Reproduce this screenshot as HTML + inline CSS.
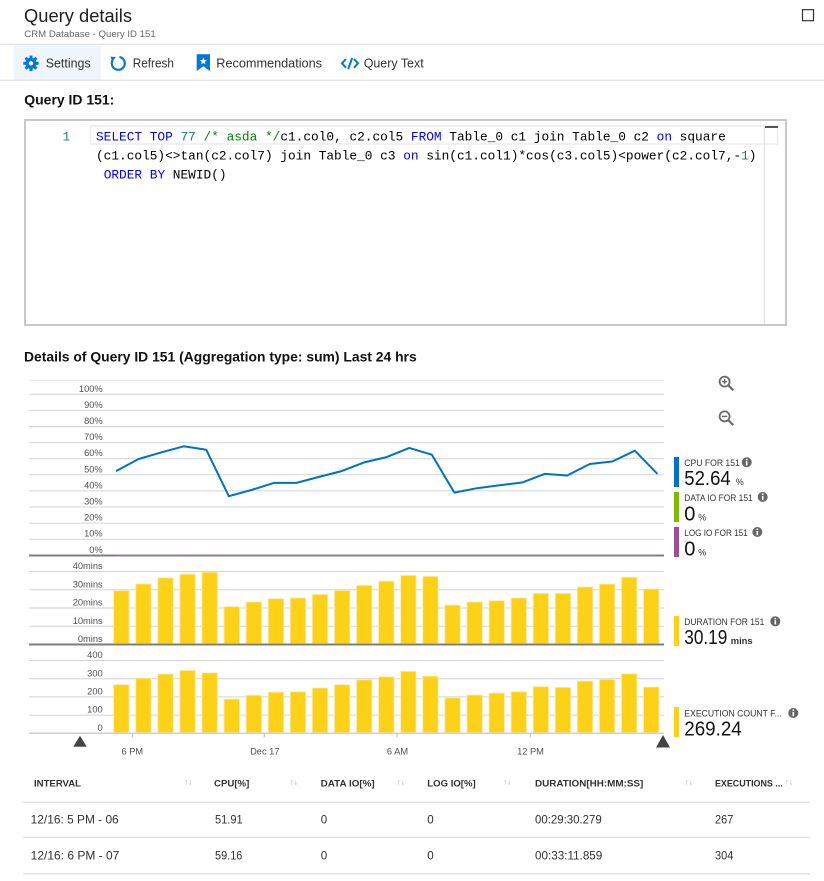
<!DOCTYPE html>
<html><head><meta charset="utf-8"><style>
html,body{margin:0;padding:0;background:#fff;}
body{width:824px;height:881px;overflow:hidden;position:relative;}
svg{position:absolute;left:0;top:0;display:block;}
text{font-family:"Liberation Sans",Arial,sans-serif;}
.mono{font-family:"Liberation Mono","DejaVu Sans Mono",monospace;font-size:12.8px;}
.ax{font-size:9.3px;fill:#505050;}
.lg{font-size:9.2px;fill:#333;}
.th{font-size:9px;font-weight:bold;fill:#323130;}
.td{font-size:11.6px;fill:#323130;}
.srt{font-size:8px;fill:#b0b0b0;}
</style></head><body>
<svg width="824" height="881" viewBox="0 0 824 881" xmlns="http://www.w3.org/2000/svg">
<!-- Header -->
<text x="24" y="22" font-size="18" fill="#1f1f1f" textLength="108" lengthAdjust="spacingAndGlyphs">Query details</text>
<text x="24.3" y="37" font-size="9.6" fill="#666" textLength="131.4" lengthAdjust="spacingAndGlyphs">CRM Database - Query ID 151</text>
<rect x="802.5" y="9.7" width="11" height="11" fill="none" stroke="#333" stroke-width="1.2"/>
<line x1="0" y1="44.3" x2="824" y2="44.3" stroke="#d9d9d9" stroke-width="1"/>
<!-- toolbar -->
<rect x="14" y="45" width="87" height="35" fill="#eef5fc"/>
<g fill="#0078d4">
  <circle cx="31" cy="63.3" r="5.6"/>
  <g>
    <rect x="29.5" y="55.6" width="3" height="3.5" transform="rotate(0 31 63.3)"/>
    <rect x="29.5" y="55.6" width="3" height="3.5" transform="rotate(45 31 63.3)"/>
    <rect x="29.5" y="55.6" width="3" height="3.5" transform="rotate(90 31 63.3)"/>
    <rect x="29.5" y="55.6" width="3" height="3.5" transform="rotate(135 31 63.3)"/>
    <rect x="29.5" y="55.6" width="3" height="3.5" transform="rotate(180 31 63.3)"/>
    <rect x="29.5" y="55.6" width="3" height="3.5" transform="rotate(225 31 63.3)"/>
    <rect x="29.5" y="55.6" width="3" height="3.5" transform="rotate(270 31 63.3)"/>
    <rect x="29.5" y="55.6" width="3" height="3.5" transform="rotate(315 31 63.3)"/>
  </g>
</g>
<circle cx="31" cy="63.3" r="2.2" fill="#eef5fc"/>
<text x="45.7" y="67.6" font-size="12.7" fill="#323130" textLength="45" lengthAdjust="spacingAndGlyphs">Settings</text>
<path d="M112.67,60.05 A6.5,6.5 0 1 0 119.43,56.9" fill="none" stroke="#0078d4" stroke-width="2.2"/>
<polygon points="110.5,56.5 115.8,57.2 112.2,61.6" fill="#0078d4"/>
<text x="132.7" y="67.6" font-size="12.7" fill="#323130" textLength="41.3" lengthAdjust="spacingAndGlyphs">Refresh</text>
<path d="M196.7,54.3 H210 V71 L203.3,66.2 L196.7,71 Z" fill="#0078d4"/>
<polygon points="203.3,57.5 204.24,60.0 206.91,60.13 204.82,61.79 205.53,64.37 203.3,62.9 201.07,64.37 201.78,61.79 199.69,60.13 202.36,60.0" fill="#fff"/>
<text x="216.3" y="67.6" font-size="12.7" fill="#323130" textLength="105.7" lengthAdjust="spacingAndGlyphs">Recommendations</text>
<g fill="none" stroke="#0078d4" stroke-width="2">
<polyline points="346,59 342,63.3 346,67.7"/>
<line x1="352.2" y1="58" x2="348.2" y2="69"/>
<polyline points="354,59 358,63.3 354,67.7"/>
</g>
<text x="363.7" y="67.6" font-size="12.7" fill="#323130" textLength="60" lengthAdjust="spacingAndGlyphs">Query Text</text>
<line x1="0" y1="80.3" x2="824" y2="80.3" stroke="#d9d9d9" stroke-width="1"/>

<text x="24.3" y="104.5" font-size="14" font-weight="bold" fill="#111" textLength="90" lengthAdjust="spacingAndGlyphs">Query ID 151:</text>

<!-- Code box -->
<rect x="25" y="120" width="761" height="205" fill="#fff" stroke="#c8c8c8" stroke-width="2"/>
<rect x="90.5" y="126" width="687" height="18" fill="none" stroke="#ececec" stroke-width="1.5"/>
<line x1="764.3" y1="126" x2="764.3" y2="324" stroke="#dcdcdc" stroke-width="1"/>
<rect x="765" y="126" width="13" height="2" fill="#555"/>
<text x="62.5" y="140.5" class="mono" fill="#237893">1</text>
<text x="96" y="140.5" class="mono" fill="#000"><tspan fill="#0000ff">SELECT TOP</tspan> <tspan fill="#09885a">77</tspan> <tspan fill="#008000">/* asda */</tspan>c1.col0, c2.col5 <tspan fill="#0000ff">FROM</tspan> Table_0 c1 join Table_0 c2 <tspan fill="#0000ff">on</tspan> square</text>
<text x="96" y="159.5" class="mono" fill="#000">(c1.col5)&lt;&gt;tan(c2.col7) join Table_0 c3 <tspan fill="#0000ff">on</tspan> sin(c1.col1)*cos(c3.col5)&lt;power(c2.col7,-<tspan fill="#09885a">1</tspan>)</text>
<text x="103.7" y="178.5" class="mono" fill="#000"><tspan fill="#0000ff">ORDER BY</tspan> NEWID()</text>

<text x="24" y="361.7" font-size="14" font-weight="bold" fill="#111" textLength="392.7" lengthAdjust="spacingAndGlyphs">Details of Query ID 151 (Aggregation type: sum) Last 24 hrs</text>

<!-- Chart gridlines -->
<g stroke="#d4d4d4" stroke-width="1">
<line x1="29" y1="380.3" x2="664" y2="380.3" stroke="#e6e6e6"/>
<line x1="29" y1="394.3" x2="664" y2="394.3"/>
<line x1="29" y1="410.4" x2="664" y2="410.4"/>
<line x1="29" y1="426.5" x2="664" y2="426.5"/>
<line x1="29" y1="442.6" x2="664" y2="442.6"/>
<line x1="29" y1="458.7" x2="664" y2="458.7"/>
<line x1="29" y1="474.8" x2="664" y2="474.8"/>
<line x1="29" y1="490.9" x2="664" y2="490.9"/>
<line x1="29" y1="507" x2="664" y2="507"/>
<line x1="29" y1="523.1" x2="664" y2="523.1"/>
<line x1="29" y1="539.2" x2="664" y2="539.2"/>
<line x1="29" y1="571.5" x2="664" y2="571.5"/>
<line x1="29" y1="589.75" x2="664" y2="589.75"/>
<line x1="29" y1="608" x2="664" y2="608"/>
<line x1="29" y1="626.25" x2="664" y2="626.25"/>
<line x1="29" y1="660.5" x2="664" y2="660.5"/>
<line x1="29" y1="678.7" x2="664" y2="678.7"/>
<line x1="29" y1="696.9" x2="664" y2="696.9"/>
<line x1="29" y1="715.1" x2="664" y2="715.1"/>
</g>
<!-- axis labels -->
<g class="ax" text-anchor="end">
<text x="102.7" y="391.8">100%</text>
<text x="102.7" y="407.9">90%</text>
<text x="102.7" y="424">80%</text>
<text x="102.7" y="440.1">70%</text>
<text x="102.7" y="456.2">60%</text>
<text x="102.7" y="472.3">50%</text>
<text x="102.7" y="488.4">40%</text>
<text x="102.7" y="504.5">30%</text>
<text x="102.7" y="520.6">20%</text>
<text x="102.7" y="536.7">10%</text>
<text x="102.7" y="552.8">0%</text>
<text x="102.7" y="569.2">40mins</text>
<text x="102.7" y="587.4">30mins</text>
<text x="102.7" y="605.7">20mins</text>
<text x="102.7" y="623.9">10mins</text>
<text x="102.7" y="642.1">0mins</text>
<text x="102.7" y="658.1">400</text>
<text x="102.7" y="676.3">300</text>
<text x="102.7" y="694.5">200</text>
<text x="102.7" y="712.7">100</text>
<text x="102.7" y="730.9">0</text>
</g>

<!-- CPU line -->
<polyline fill="none" stroke="#0072c6" stroke-width="2" stroke-linejoin="round" points="116,471.1 138.56,459.0 161.12,452.4 183.68,446.3 206.24,449.7 228.8,496.2 251.36,490.0 273.92,482.9 296.48,482.9 319.04,476.9 341.6,471.1 364.16,462.4 386.72,457.1 409.28,447.9 431.84,454.7 454.4,492.6 476.96,488.2 499.52,485.3 522.08,482.55 544.64,473.9 567.2,475.5 589.76,464.0 612.32,461.5 634.88,450.7 657.44,473.9"/>
<!-- CPU zero / panel separator -->
<line x1="29" y1="555.5" x2="664" y2="555.5" stroke="#808080" stroke-width="2"/>
<line x1="116" y1="555.5" x2="657.4" y2="555.5" stroke="#8d7c93" stroke-width="2"/>

<!-- Duration bars -->
<g fill="#fcd116" stroke="#fde9a2" stroke-width="0.8">
<rect x="113.7" y="590.7" width="15.3" height="52.8"/>
<rect x="135.78" y="583.9" width="15.3" height="59.6"/>
<rect x="157.86" y="577.9" width="15.3" height="65.6"/>
<rect x="179.94" y="574.2" width="15.3" height="69.3"/>
<rect x="202.02" y="572.2" width="15.3" height="71.3"/>
<rect x="224.1" y="606.7" width="15.3" height="36.8"/>
<rect x="246.18" y="602.0" width="15.3" height="41.5"/>
<rect x="268.26" y="598.7" width="15.3" height="44.8"/>
<rect x="290.34" y="598.0" width="15.3" height="45.5"/>
<rect x="312.42" y="594.5" width="15.3" height="49.0"/>
<rect x="334.5" y="590.5" width="15.3" height="53.0"/>
<rect x="356.58" y="585.4" width="15.3" height="58.1"/>
<rect x="378.66" y="581.2" width="15.3" height="62.3"/>
<rect x="400.74" y="575.5" width="15.3" height="68.0"/>
<rect x="422.82" y="576.4" width="15.3" height="67.1"/>
<rect x="444.9" y="605.1" width="15.3" height="38.4"/>
<rect x="466.98" y="602.0" width="15.3" height="41.5"/>
<rect x="489.06" y="600.7" width="15.3" height="42.8"/>
<rect x="511.14" y="598.0" width="15.3" height="45.5"/>
<rect x="533.22" y="593.4" width="15.3" height="50.1"/>
<rect x="555.3" y="593.4" width="15.3" height="50.1"/>
<rect x="577.38" y="587.0" width="15.3" height="56.5"/>
<rect x="599.46" y="584.1" width="15.3" height="59.4"/>
<rect x="621.54" y="577.2" width="15.3" height="66.3"/>
<rect x="643.62" y="589.0" width="15.3" height="54.5"/>
</g>
<line x1="29" y1="644.5" x2="664" y2="644.5" stroke="#7d7d7d" stroke-width="2"/>

<!-- Execution bars -->
<g fill="#fcd116" stroke="#fde9a2" stroke-width="0.8">
<rect x="113.7" y="684.7" width="15.3" height="47.9"/>
<rect x="135.78" y="678.2" width="15.3" height="54.4"/>
<rect x="157.86" y="674.1" width="15.3" height="58.5"/>
<rect x="179.94" y="670.5" width="15.3" height="62.1"/>
<rect x="202.02" y="672.9" width="15.3" height="59.7"/>
<rect x="224.1" y="699.1" width="15.3" height="33.5"/>
<rect x="246.18" y="695.4" width="15.3" height="37.2"/>
<rect x="268.26" y="692.2" width="15.3" height="40.4"/>
<rect x="290.34" y="691.8" width="15.3" height="40.8"/>
<rect x="312.42" y="688.0" width="15.3" height="44.6"/>
<rect x="334.5" y="684.7" width="15.3" height="47.9"/>
<rect x="356.58" y="679.8" width="15.3" height="52.8"/>
<rect x="378.66" y="676.9" width="15.3" height="55.7"/>
<rect x="400.74" y="671.4" width="15.3" height="61.2"/>
<rect x="422.82" y="676.2" width="15.3" height="56.4"/>
<rect x="444.9" y="697.8" width="15.3" height="34.8"/>
<rect x="466.98" y="695.1" width="15.3" height="37.5"/>
<rect x="489.06" y="693.1" width="15.3" height="39.5"/>
<rect x="511.14" y="691.8" width="15.3" height="40.8"/>
<rect x="533.22" y="686.7" width="15.3" height="45.9"/>
<rect x="555.3" y="687.4" width="15.3" height="45.2"/>
<rect x="577.38" y="681.1" width="15.3" height="51.5"/>
<rect x="599.46" y="679.4" width="15.3" height="53.2"/>
<rect x="621.54" y="673.8" width="15.3" height="58.8"/>
<rect x="643.62" y="687.1" width="15.3" height="45.5"/>
</g>
<line x1="29" y1="733.3" x2="664" y2="733.3" stroke="#cfcfcf" stroke-width="1.5"/>
<g stroke="#bdbdbd" stroke-width="1">
<line x1="132.3" y1="733.5" x2="132.3" y2="737.5"/>
<line x1="264.3" y1="733.5" x2="264.3" y2="737.5"/>
<line x1="397" y1="733.5" x2="397" y2="737.5"/>
<line x1="530.3" y1="733.5" x2="530.3" y2="737.5"/>
</g>
<g class="ax" text-anchor="middle">
<text x="132.3" y="754.5">6 PM</text>
<text x="264.8" y="754.5">Dec 17</text>
<text x="397.5" y="754.5">6 AM</text>
<text x="530.5" y="754.5">12 PM</text>
</g>
<polygon points="80,735.7 86.7,746.7 73.3,746.7" fill="#444"/>
<polygon points="663,735 670,747.5 656,747.5" fill="#444"/>

<!-- zoom icons -->
<g fill="none" stroke="#6a6a6a" stroke-width="1.8">
<circle cx="724.6" cy="381.6" r="5"/>
<line x1="728.3" y1="385.3" x2="733.3" y2="390.3" stroke-width="2.2"/>
<line x1="722" y1="381.6" x2="727.2" y2="381.6" stroke-width="1.4"/>
<line x1="724.6" y1="379" x2="724.6" y2="384.2" stroke-width="1.4"/>
<circle cx="724.6" cy="416.4" r="5"/>
<line x1="728.3" y1="420.1" x2="733.3" y2="425.1" stroke-width="2.2"/>
<line x1="722" y1="416.4" x2="727.2" y2="416.4" stroke-width="1.4"/>
</g>

<!-- Legend -->
<rect x="674" y="457" width="5" height="30" fill="#0072c6"/>
<rect x="674" y="492" width="5" height="30" fill="#7fba00"/>
<rect x="674" y="527" width="5" height="30" fill="#9b4f96"/>
<rect x="674" y="616" width="5" height="30" fill="#fcd116"/>
<rect x="674" y="707" width="5" height="30" fill="#fcd116"/>

<text x="684.3" y="466" class="lg" textLength="55.5" lengthAdjust="spacingAndGlyphs">CPU FOR 151</text>
<text x="684.3" y="485" font-size="20" fill="#111" textLength="46.4" lengthAdjust="spacingAndGlyphs">52.64</text>
<text x="735.7" y="485" font-size="9" fill="#333">%</text>

<text x="684.3" y="500.8" class="lg" textLength="68.4" lengthAdjust="spacingAndGlyphs">DATA IO FOR 151</text>
<text x="684.3" y="520.3" font-size="20" fill="#111">0</text>
<text x="698.3" y="520.3" font-size="9" fill="#333">%</text>

<text x="684.3" y="535.8" class="lg" textLength="63.4" lengthAdjust="spacingAndGlyphs">LOG IO FOR 151</text>
<text x="684.3" y="555.3" font-size="20" fill="#111">0</text>
<text x="698.3" y="555.3" font-size="9" fill="#333">%</text>

<text x="684.3" y="624.8" class="lg" textLength="80" lengthAdjust="spacingAndGlyphs">DURATION FOR 151</text>
<text x="684.3" y="644" font-size="20" fill="#111" textLength="43" lengthAdjust="spacingAndGlyphs">30.19</text>
<text x="730.7" y="644" font-size="9.5" font-weight="bold" fill="#333" textLength="22" lengthAdjust="spacingAndGlyphs">mins</text>

<text x="684.3" y="716.3" class="lg" textLength="97.4" lengthAdjust="spacingAndGlyphs">EXECUTION COUNT F...</text>
<text x="684.3" y="735.6" font-size="20" fill="#111" textLength="57.4" lengthAdjust="spacingAndGlyphs">269.24</text>

<!-- info icons -->
<g fill="#666">
<circle cx="746.7" cy="462.3" r="5"/>
<circle cx="762.7" cy="497" r="5"/>
<circle cx="757.3" cy="532" r="5"/>
<circle cx="775.3" cy="621.3" r="5"/>
<circle cx="793.3" cy="713" r="5"/>
</g>
<g fill="#fff">
<rect x="745.9" y="461.3" width="1.6" height="4.2"/><rect x="745.9" y="458.8" width="1.6" height="1.6"/>
<rect x="761.9" y="496" width="1.6" height="4.2"/><rect x="761.9" y="493.5" width="1.6" height="1.6"/>
<rect x="756.5" y="531" width="1.6" height="4.2"/><rect x="756.5" y="528.5" width="1.6" height="1.6"/>
<rect x="774.5" y="620.3" width="1.6" height="4.2"/><rect x="774.5" y="617.8" width="1.6" height="1.6"/>
<rect x="792.5" y="712" width="1.6" height="4.2"/><rect x="792.5" y="709.5" width="1.6" height="1.6"/>
</g>

<!-- Table -->
<text x="34" y="786.6" class="th" textLength="47" lengthAdjust="spacingAndGlyphs">INTERVAL</text>
<text x="214" y="786.6" class="th" textLength="35.3" lengthAdjust="spacingAndGlyphs">CPU[%]</text>
<text x="320.7" y="786.6" class="th" textLength="54" lengthAdjust="spacingAndGlyphs">DATA IO[%]</text>
<text x="427.3" y="786.6" class="th" textLength="48.4" lengthAdjust="spacingAndGlyphs">LOG IO[%]</text>
<text x="535" y="786.6" class="th" textLength="108.3" lengthAdjust="spacingAndGlyphs">DURATION[HH:MM:SS]</text>
<text x="715" y="786.6" class="th" textLength="67.7" lengthAdjust="spacingAndGlyphs">EXECUTIONS ...</text>
<g class="srt">
<text x="184" y="784.5">↑↓</text>
<text x="289.7" y="784.5">↑↓</text>
<text x="396.7" y="784.5">↑↓</text>
<text x="503" y="784.5">↑↓</text>
<text x="684.7" y="784.5">↑↓</text>
<text x="784.8" y="784.5">↑↓</text>
</g>
<g stroke="#d6d6d6" stroke-width="1">
<line x1="23.3" y1="802.3" x2="810" y2="802.3"/>
<line x1="23.3" y1="837.3" x2="810" y2="837.3"/>
<line x1="23.3" y1="873.7" x2="810" y2="873.7"/>
</g>
<text x="30.7" y="823.5" class="td" textLength="88" lengthAdjust="spacingAndGlyphs">12/16: 5 PM - 06</text>
<text x="215" y="823.5" class="td" textLength="27.7" lengthAdjust="spacingAndGlyphs">51.91</text>
<text x="320.7" y="823.5" class="td">0</text>
<text x="427.3" y="823.5" class="td">0</text>
<text x="535" y="823.5" class="td" textLength="66.7" lengthAdjust="spacingAndGlyphs">00:29:30.279</text>
<text x="715" y="823.5" class="td" textLength="18.3" lengthAdjust="spacingAndGlyphs">267</text>
<text x="30.7" y="859.5" class="td" textLength="88.6" lengthAdjust="spacingAndGlyphs">12/16: 6 PM - 07</text>
<text x="215" y="859.5" class="td" textLength="27.4" lengthAdjust="spacingAndGlyphs">59.16</text>
<text x="320.7" y="859.5" class="td">0</text>
<text x="427.3" y="859.5" class="td">0</text>
<text x="535" y="859.5" class="td" textLength="67.3" lengthAdjust="spacingAndGlyphs">00:33:11.859</text>
<text x="715" y="859.5" class="td" textLength="18.3" lengthAdjust="spacingAndGlyphs">304</text>
</svg>
</body></html>
